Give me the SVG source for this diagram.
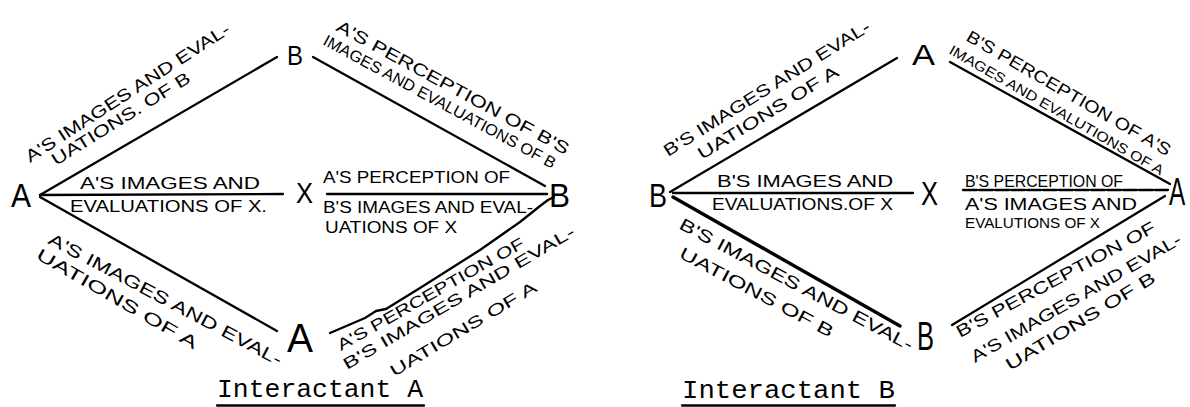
<svg xmlns="http://www.w3.org/2000/svg" width="1190" height="407" viewBox="0 0 1190 407">
<style>
.bg{fill:#fff}
.ln{stroke:#000;stroke-width:2.3;fill:none;stroke-linecap:round;stroke-linejoin:round}
.thick{stroke-width:3.4}
.node{font-family:"Liberation Sans","DejaVu Sans",sans-serif;fill:#000}
.lbl{font-family:"Liberation Sans","DejaVu Sans",sans-serif;font-size:17px;fill:#000}
.sm{font-size:16px}
.xs{font-size:14px}
.ttl{font-family:"Liberation Mono","Courier New",monospace;font-size:25px;fill:#000}
</style>
<rect class="bg" x="0" y="0" width="1190" height="407"/>

<g id="connectors">
  <!-- Interactant A -->
  <line class="ln" x1="40" y1="195" x2="277" y2="57"/>
  <line class="ln" x1="313" y1="57" x2="545" y2="186"/>
  <line class="ln" x1="40" y1="195" x2="283" y2="194"/>
  <line class="ln" x1="327" y1="194" x2="547" y2="194"/>
  <line class="ln" x1="40" y1="197" x2="277" y2="331"/>
  <path class="ln" d="M330,333 L365,318 L376,311 L386,309 L420,288 L480,250 L520,222 L540,206 L548,200 L554,197"/>
  <!-- Interactant B -->
  <line class="ln" x1="670" y1="192" x2="897" y2="58"/>
  <line class="ln" x1="950" y1="62" x2="1170" y2="184"/>
  <line class="ln" x1="673" y1="193" x2="913" y2="193"/>
  <line class="ln" x1="963" y1="190" x2="1168" y2="190" stroke-dasharray="14 2"/>
  <line class="ln thick" x1="673" y1="197" x2="900" y2="326"/>
  <line class="ln" x1="952" y1="325" x2="1165" y2="196"/>
</g>

<g id="interactant-a">
  <g id="a-node-A-left"><text class="node" x="11" y="207" font-size="33" textLength="20" lengthAdjust="spacingAndGlyphs">A</text></g>
  <g id="a-node-B-top"><text class="node" x="287" y="65" font-size="28" textLength="16" lengthAdjust="spacingAndGlyphs">B</text></g>
  <g id="a-node-X"><text class="node" x="296" y="203" font-size="29" textLength="17" lengthAdjust="spacingAndGlyphs">X</text></g>
  <g id="a-node-B-right"><text class="node" x="549" y="207" font-size="34" textLength="21" lengthAdjust="spacingAndGlyphs">B</text></g>
  <g id="a-node-A-bottom"><text class="node" x="287" y="352" font-size="41" textLength="26" lengthAdjust="spacingAndGlyphs">A</text></g>
</g>

<g id="interactant-b">
  <g id="b-node-B-left"><text class="node" x="649" y="207" font-size="33" textLength="18" lengthAdjust="spacingAndGlyphs">B</text></g>
  <g id="b-node-A-top"><text class="node" x="912" y="65" font-size="30" textLength="23" lengthAdjust="spacingAndGlyphs">A</text></g>
  <g id="b-node-X"><text class="node" x="921" y="205" font-size="34" textLength="17" lengthAdjust="spacingAndGlyphs">X</text></g>
  <g id="b-node-A-right"><text class="node" transform="translate(1169,205) scale(0.64,1)" font-size="38">A</text></g>
  <g id="b-node-B-bottom"><text class="node" x="917" y="350" font-size="41" textLength="17" lengthAdjust="spacingAndGlyphs">B</text></g>
</g>

<g id="labels-a">
  <text class="lbl" transform="translate(30,163) rotate(-33)" textLength="240" lengthAdjust="spacingAndGlyphs">A'S IMAGES AND EVAL-</text>
  <text class="lbl" transform="translate(56,166) rotate(-32)" textLength="160" lengthAdjust="spacingAndGlyphs">UATIONS. OF B</text>
  <text class="lbl" transform="translate(335,30) rotate(28.5)" textLength="262" lengthAdjust="spacingAndGlyphs">A'S PERCEPTION OF B'S</text>
  <text class="lbl sm" transform="translate(322,44) rotate(28.5)" textLength="262" lengthAdjust="spacingAndGlyphs">IMAGES AND EVALUATIONS OF B</text>
  <text class="lbl" x="80" y="189" textLength="180" lengthAdjust="spacingAndGlyphs">A'S IMAGES AND</text>
  <text class="lbl" x="70" y="212" textLength="197" lengthAdjust="spacingAndGlyphs">EVALUATIONS OF X.</text>
  <text class="lbl" x="323" y="183" textLength="187" lengthAdjust="spacingAndGlyphs">A'S PERCEPTION OF</text>
  <text class="lbl sm" x="323" y="213" textLength="210" lengthAdjust="spacingAndGlyphs">B'S IMAGES AND EVAL-</text>
  <text class="lbl sm" x="325" y="233" textLength="132" lengthAdjust="spacingAndGlyphs">UATIONS OF X</text>
  <text class="lbl" transform="translate(47,243) rotate(28)" textLength="262" lengthAdjust="spacingAndGlyphs">A'S IMAGES AND EVAL-</text>
  <text class="lbl" transform="translate(35,258) rotate(30)" textLength="183" lengthAdjust="spacingAndGlyphs">UATIONS OF A</text>
  <text class="lbl sm" transform="translate(341,351) rotate(-29.5)" textLength="212" lengthAdjust="spacingAndGlyphs">A'S PERCEPTION OF</text>
  <text class="lbl sm" transform="translate(347,370) rotate(-30.5)" textLength="266" lengthAdjust="spacingAndGlyphs">B'S IMAGES AND EVAL-</text>
  <text class="lbl sm" transform="translate(394,377) rotate(-31)" textLength="168" lengthAdjust="spacingAndGlyphs">UATIONS OF A</text>
</g>

<g id="labels-b">
  <text class="lbl" transform="translate(668,157) rotate(-32)" textLength="240" lengthAdjust="spacingAndGlyphs">B'S IMAGES AND EVAL-</text>
  <text class="lbl" transform="translate(702,160) rotate(-31.6)" textLength="162" lengthAdjust="spacingAndGlyphs">UATIONS OF A</text>
  <text class="lbl" transform="translate(965,40) rotate(30)" textLength="233" lengthAdjust="spacingAndGlyphs">B'S PERCEPTION OF A'S</text>
  <text class="lbl xs" transform="translate(948,53) rotate(30)" textLength="245" lengthAdjust="spacingAndGlyphs">IMAGES AND EVALUTIONS OF A</text>
  <text class="lbl" x="717" y="187" textLength="176" lengthAdjust="spacingAndGlyphs">B'S IMAGES AND</text>
  <text class="lbl" x="712" y="210" textLength="181" lengthAdjust="spacingAndGlyphs">EVALUATIONS.OF X</text>
  <text class="lbl" x="965" y="187" textLength="158" lengthAdjust="spacingAndGlyphs">B'S PERCEPTION OF</text>
  <text class="lbl sm" x="965" y="210" textLength="172" lengthAdjust="spacingAndGlyphs">A'S IMAGES AND</text>
  <text class="lbl xs" x="965" y="228" textLength="135" lengthAdjust="spacingAndGlyphs">EVALUTIONS OF X</text>
  <text class="lbl" transform="translate(678,228) rotate(28)" textLength="262" lengthAdjust="spacingAndGlyphs">B'S IMAGES AND EVAL-</text>
  <text class="lbl" transform="translate(678,257) rotate(28)" textLength="172" lengthAdjust="spacingAndGlyphs">UATIONS OF B</text>
  <text class="lbl" transform="translate(960,338) rotate(-28.5)" textLength="224" lengthAdjust="spacingAndGlyphs">B'S PERCEPTION OF</text>
  <text class="lbl" transform="translate(975,363) rotate(-30)" textLength="240" lengthAdjust="spacingAndGlyphs">A'S IMAGES AND EVAL-</text>
  <text class="lbl" transform="translate(1010,371) rotate(-31.5)" textLength="172" lengthAdjust="spacingAndGlyphs">UATIONS OF B</text>
</g>

<g id="titles">
  <text class="ttl" x="217" y="397" textLength="206" lengthAdjust="spacingAndGlyphs">Interactant A</text>
  <line class="ln" x1="217" y1="405.5" x2="424" y2="405.5" stroke-width="2"/>
  <text class="ttl" x="682" y="398" textLength="213" lengthAdjust="spacingAndGlyphs">Interactant B</text>
  <line class="ln" x1="682" y1="405.5" x2="895" y2="405.5" stroke-width="2"/>
</g>
</svg>
